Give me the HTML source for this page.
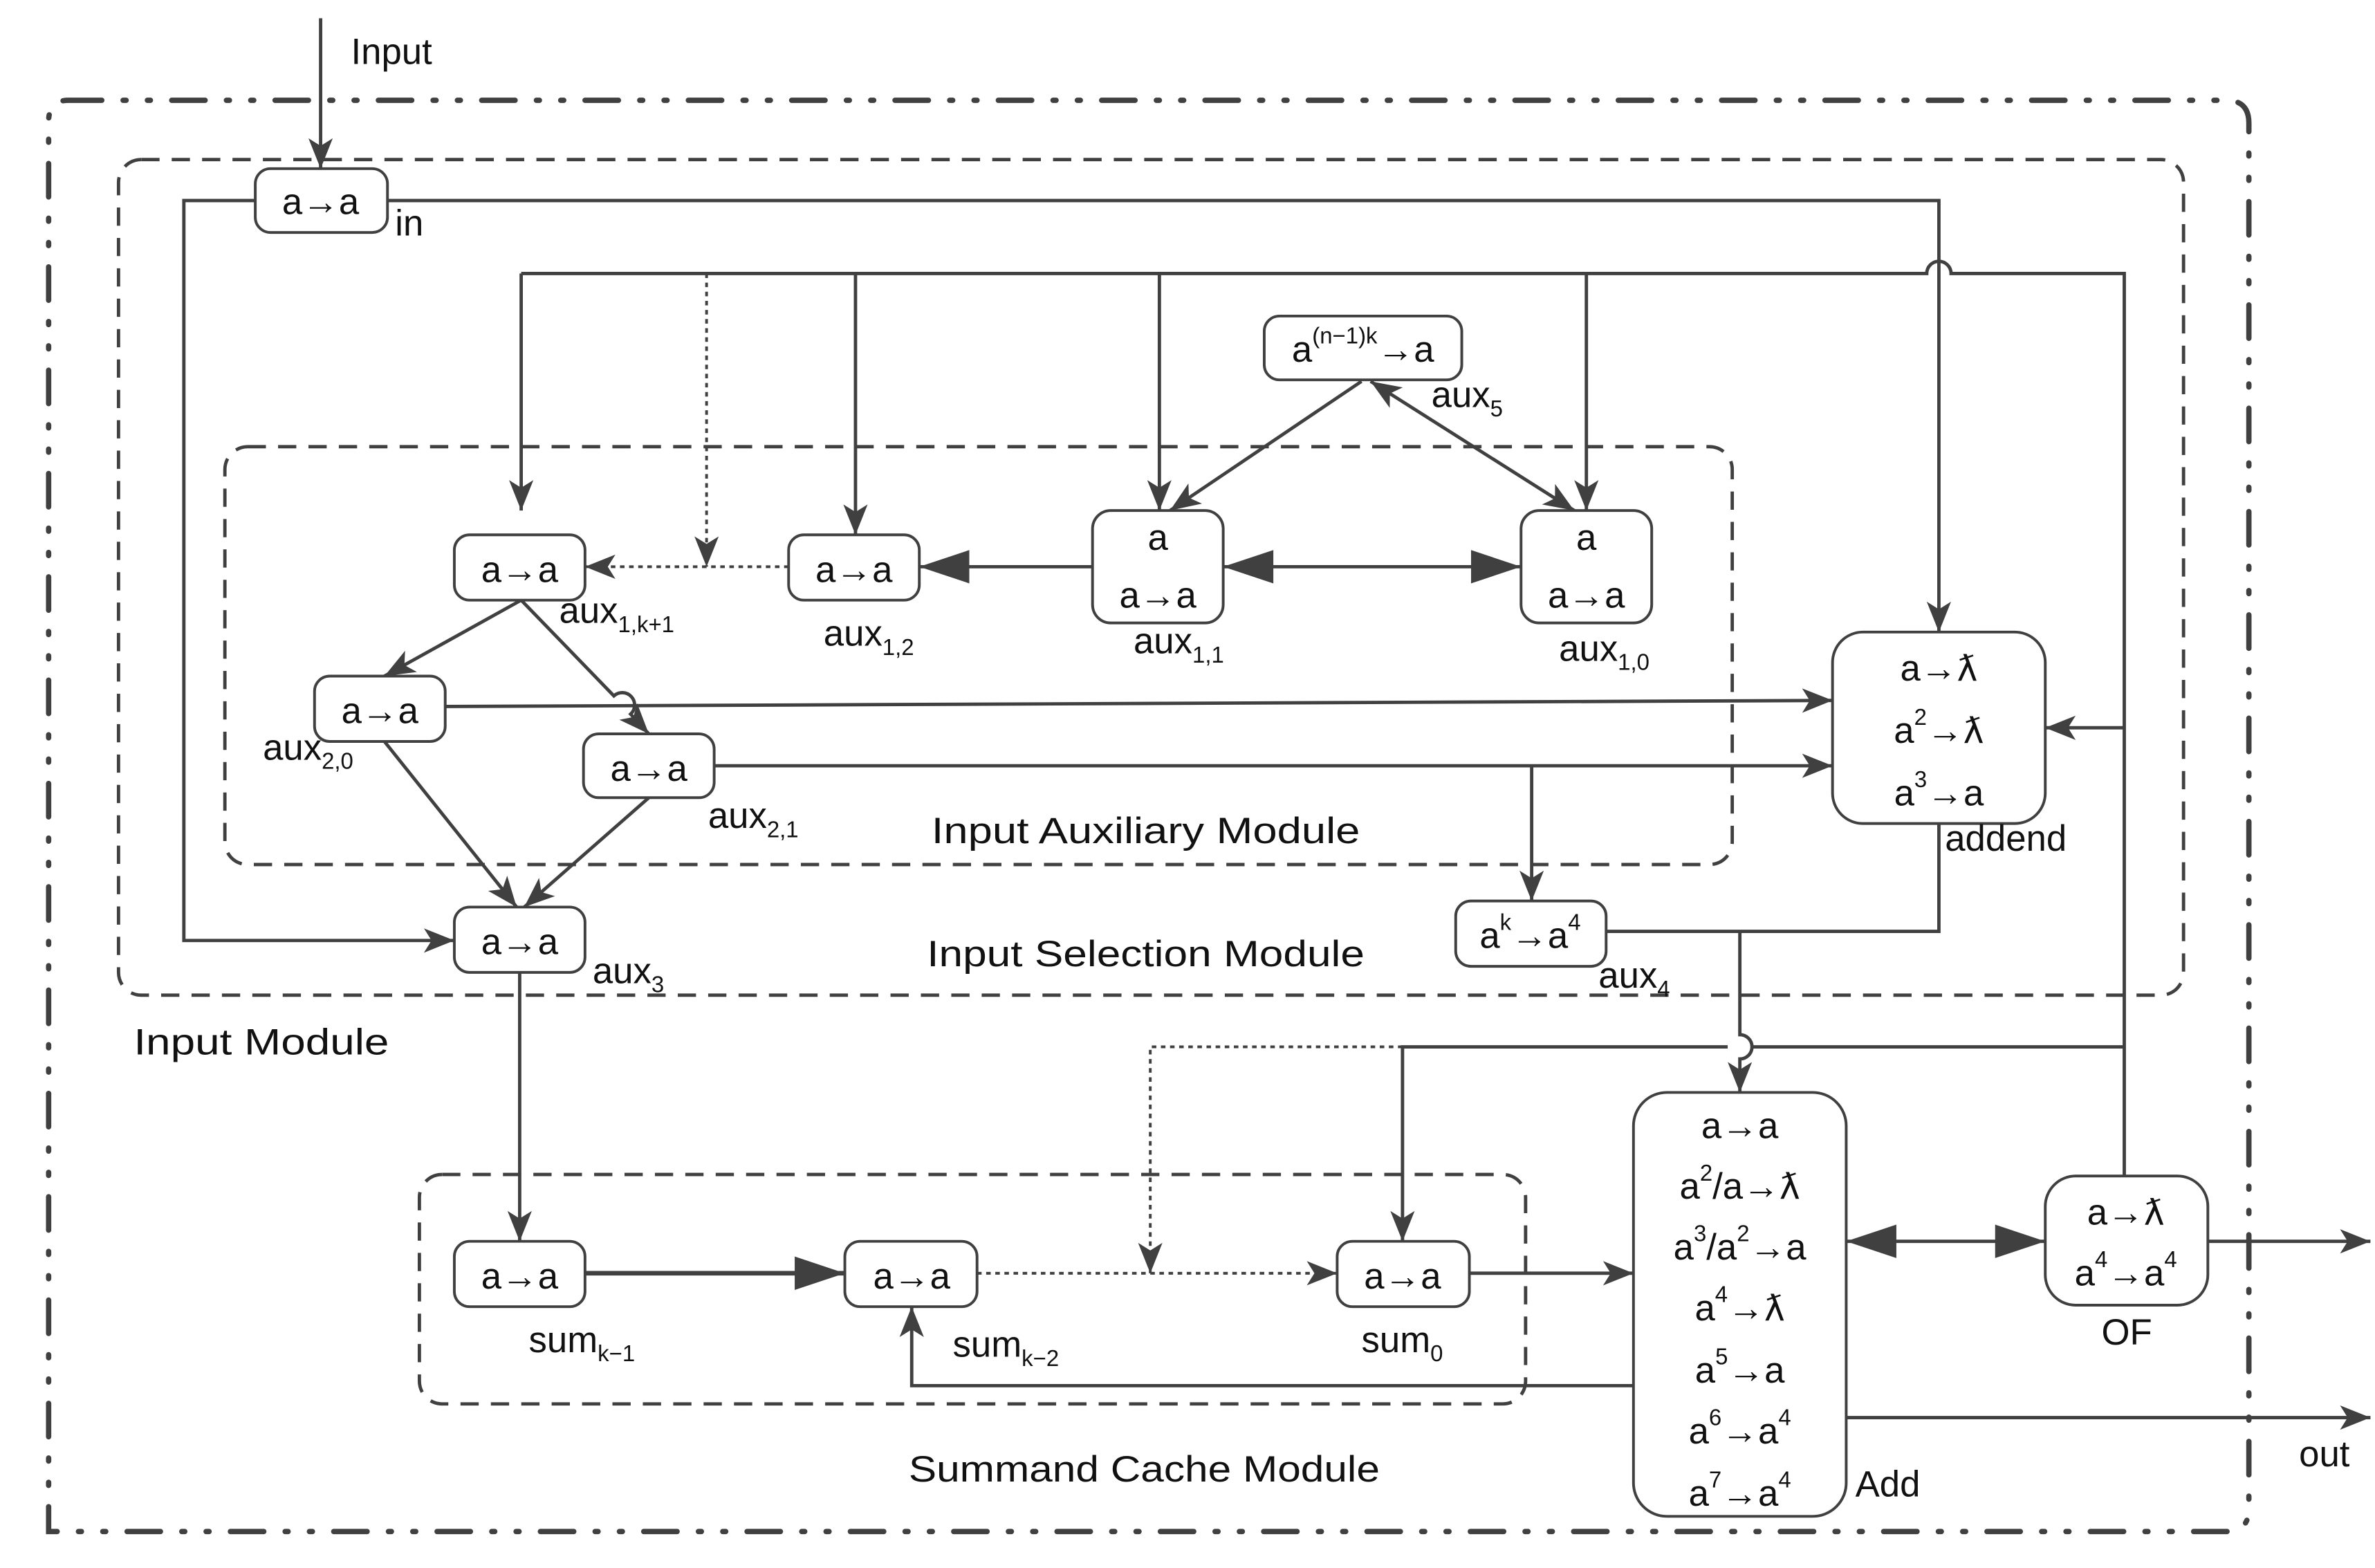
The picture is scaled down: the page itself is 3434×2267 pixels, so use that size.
<!DOCTYPE html>
<html><head><meta charset="utf-8"><style>
html,body{margin:0;padding:0;background:#fff}
svg{display:block}
text{font-family:"Liberation Sans","DejaVu Sans",sans-serif;fill:#111;font-size:24px}
.s{font-size:15px}
.l{font-family:"DejaVu Sans",sans-serif;font-size:23px}
</style></head><body>
<svg width="3434" height="2267" viewBox="0 0 1563 1032" preserveAspectRatio="none" xmlns="http://www.w3.org/2000/svg">
<defs>
<marker id="ar" markerWidth="22" markerHeight="16" refX="20" refY="8" orient="auto" markerUnits="userSpaceOnUse">
<path d="M0,0 L20,8 L0,16 L5,8 Z" fill="#404040"/></marker>
<marker id="al" markerWidth="22" markerHeight="16" refX="0" refY="8" orient="auto" markerUnits="userSpaceOnUse">
<path d="M20,0 L0,8 L20,16 L15,8 Z" fill="#404040"/></marker>
<marker id="arb" markerWidth="34" markerHeight="22" refX="33" refY="11" orient="auto" markerUnits="userSpaceOnUse">
<path d="M0,0 L33,11 L0,22 Z" fill="#404040"/></marker>
<marker id="alb" markerWidth="34" markerHeight="22" refX="0" refY="11" orient="auto" markerUnits="userSpaceOnUse">
<path d="M33,0 L0,11 L33,22 Z" fill="#404040"/></marker>
</defs>
<g fill="none" stroke="#404040" stroke-width="2.2">
<path d="M45,66 H1465 Q1480,66 1480,81 V993 Q1480,1008 1465,1008 H32 V80 Q32,66 45,66 Z" stroke-width="3.5" stroke-dasharray="22,14,2,14,2,14" stroke-linecap="round"/>
<rect x="78" y="105" width="1359" height="550" rx="15" stroke-dasharray="12,8"/>
<rect x="148" y="294" width="992" height="275" rx="15" stroke-dasharray="12,8"/>
<rect x="276" y="773" width="728" height="151" rx="15" stroke-dasharray="12,8"/>
<path d="M211,12 V111" marker-end="url(#ar)"/>
<path d="M168,132 H121 V619 H299" marker-end="url(#ar)"/>
<path d="M255,132 H1276 V416" marker-end="url(#ar)"/>
<path d="M343,180 H1268 A8,8 0 0 1 1284,180 H1398 V774"/>
<path d="M343,180 V336" marker-end="url(#ar)"/>
<path d="M465,180 V373" stroke-dasharray="3,3" stroke-width="1.8" marker-end="url(#ar)"/>
<path d="M563,180 V352" marker-end="url(#ar)"/>
<path d="M763,180 V336" marker-end="url(#ar)"/>
<path d="M1044,180 V336" marker-end="url(#ar)"/>
<path d="M1398,479 H1346" marker-end="url(#ar)"/>
<path d="M519,373 H385" stroke-dasharray="3,3" stroke-width="1.8" marker-end="url(#ar)"/>
<path d="M719,373 H605" marker-end="url(#arb)"/>
<path d="M805,373 H1001" marker-start="url(#alb)" marker-end="url(#arb)"/>
<path d="M896,251 L770,336" marker-end="url(#ar)"/>
<path d="M902,251 L1036,336" marker-start="url(#al)" marker-end="url(#ar)"/>
<path d="M343,395 L253,445" marker-end="url(#ar)"/>
<path d="M343,395 L404,458 A8,8 0 0 1 415,470 L427,483" marker-end="url(#ar)"/>
<path d="M293,465 L1206,461" marker-end="url(#ar)"/>
<path d="M470,504 H1206" marker-end="url(#ar)"/>
<path d="M1008,504 V593" marker-end="url(#ar)"/>
<path d="M253,488 L340,597" marker-end="url(#ar)"/>
<path d="M427,525 L345,597" marker-end="url(#ar)"/>
<path d="M342,640 V817" marker-end="url(#ar)"/>
<path d="M1057,613 H1276 V542"/>
<path d="M1145,613 V681 A8,8 0 0 1 1145,697 V719" marker-end="url(#ar)"/>
<path d="M1398,689 H1153 M1137,689 H923 V817" marker-end="url(#ar)"/>
<path d="M923,689 H757 V838" stroke-dasharray="3,3" stroke-width="1.8" marker-end="url(#ar)"/>
<path d="M385,838 H556" stroke-width="3" marker-end="url(#arb)"/>
<path d="M643,838 H880" stroke-dasharray="3,3" stroke-width="1.8" marker-end="url(#ar)"/>
<path d="M967,838 H1075" marker-end="url(#ar)"/>
<path d="M1075,912 H600 V860" marker-end="url(#ar)"/>
<path d="M1215,817 H1346" marker-start="url(#alb)" marker-end="url(#arb)"/>
<path d="M1453,817 H1560" marker-end="url(#ar)"/>
<path d="M1215,933 H1560" marker-end="url(#ar)"/>
</g>
<g fill="#fff" stroke="#404040" stroke-width="1.8">
<rect x="168" y="111" width="87" height="42" rx="10"/>
<rect x="832" y="208" width="130" height="42" rx="10"/>
<rect x="299" y="352" width="86" height="43" rx="10"/>
<rect x="519" y="352" width="86" height="43" rx="10"/>
<rect x="719" y="336" width="86" height="74" rx="12"/>
<rect x="1001" y="336" width="86" height="74" rx="12"/>
<rect x="1206" y="416" width="140" height="126" rx="20"/>
<rect x="207" y="445" width="86" height="43" rx="10"/>
<rect x="384" y="483" width="86" height="42" rx="10"/>
<rect x="299" y="597" width="86" height="43" rx="10"/>
<rect x="958" y="593" width="99" height="43" rx="10"/>
<rect x="299" y="817" width="86" height="43" rx="10"/>
<rect x="556" y="817" width="87" height="43" rx="10"/>
<rect x="880" y="817" width="87" height="43" rx="10"/>
<rect x="1075" y="719" width="140" height="279" rx="22"/>
<rect x="1346" y="774" width="107" height="85" rx="20"/>
</g>
<g text-anchor="middle">
<text x="211" y="141">a→a</text>
<text x="897" y="238">a<tspan class="s" dy="-12">(n−1)k</tspan><tspan dy="12">→a</tspan></text>
<text x="342" y="383">a→a</text>
<text x="562" y="383">a→a</text>
<text x="762" y="362">a</text><text x="762" y="400">a→a</text>
<text x="1044" y="362">a</text><text x="1044" y="400">a→a</text>
<text x="1276" y="448">a→<tspan class="l">ƛ</tspan></text>
<text x="1276" y="489">a<tspan class="s" dy="-12">2</tspan><tspan dy="12">→</tspan><tspan class="l">ƛ</tspan></text>
<text x="1276" y="530">a<tspan class="s" dy="-12">3</tspan><tspan dy="12">→a</tspan></text>
<text x="250" y="476">a→a</text>
<text x="427" y="514">a→a</text>
<text x="342" y="628">a→a</text>
<text x="1007" y="624">a<tspan class="s" dy="-12">k</tspan><tspan dy="12">→a</tspan><tspan class="s" dy="-12">4</tspan></text>
<text x="342" y="848">a→a</text>
<text x="600" y="848">a→a</text>
<text x="923" y="848">a→a</text>
<text x="1145" y="749">a→a</text>
<text x="1145" y="789">a<tspan class="s" dy="-12">2</tspan><tspan dy="12">/a→</tspan><tspan class="l">ƛ</tspan></text>
<text x="1145" y="829">a<tspan class="s" dy="-12">3</tspan><tspan dy="12">/a</tspan><tspan class="s" dy="-12">2</tspan><tspan dy="12">→a</tspan></text>
<text x="1145" y="869">a<tspan class="s" dy="-12">4</tspan><tspan dy="12">→</tspan><tspan class="l">ƛ</tspan></text>
<text x="1145" y="910">a<tspan class="s" dy="-12">5</tspan><tspan dy="12">→a</tspan></text>
<text x="1145" y="950">a<tspan class="s" dy="-12">6</tspan><tspan dy="12">→a</tspan><tspan class="s" dy="-12">4</tspan></text>
<text x="1145" y="991">a<tspan class="s" dy="-12">7</tspan><tspan dy="12">→a</tspan><tspan class="s" dy="-12">4</tspan></text>
<text x="1399" y="806">a→<tspan class="l">ƛ</tspan></text>
<text x="1399" y="846">a<tspan class="s" dy="-12">4</tspan><tspan dy="12">→a</tspan><tspan class="s" dy="-12">4</tspan></text>
</g>
<g>
<text x="231" y="42">Input</text>
<text x="260" y="155">in</text>
<text x="942" y="268">aux<tspan class="s" dy="6">5</tspan></text>
<text x="368" y="410">aux<tspan class="s" dy="6">1,k+1</tspan></text>
<text x="542" y="425">aux<tspan class="s" dy="6">1,2</tspan></text>
<text x="746" y="430">aux<tspan class="s" dy="6">1,1</tspan></text>
<text x="1026" y="435">aux<tspan class="s" dy="6">1,0</tspan></text>
<text x="1280" y="560">addend</text>
<text x="173" y="500">aux<tspan class="s" dy="6">2,0</tspan></text>
<text x="466" y="545">aux<tspan class="s" dy="6">2,1</tspan></text>
<text x="390" y="647">aux<tspan class="s" dy="6">3</tspan></text>
<text x="1052" y="650">aux<tspan class="s" dy="6">4</tspan></text>
<text x="348" y="890">sum<tspan class="s" dy="6">k−1</tspan></text>
<text x="627" y="893">sum<tspan class="s" dy="6">k−2</tspan></text>
<text x="896" y="890">sum<tspan class="s" dy="6">0</tspan></text>
<text x="1221" y="985">Add</text>
<text x="1383" y="885">OF</text>
<text x="1513" y="965">out</text>
<text x="613" y="555" textLength="282" lengthAdjust="spacingAndGlyphs">Input Auxiliary Module</text>
<text x="610" y="636" textLength="288" lengthAdjust="spacingAndGlyphs">Input Selection Module</text>
<text x="88" y="694" textLength="168" lengthAdjust="spacingAndGlyphs">Input Module</text>
<text x="598" y="975" textLength="310" lengthAdjust="spacingAndGlyphs">Summand Cache Module</text>
</g>
</svg>
</body></html>
